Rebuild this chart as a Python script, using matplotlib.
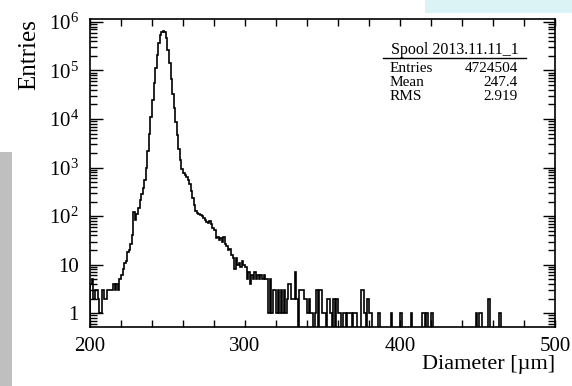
import numpy as np
import matplotlib
matplotlib.use("Agg")
import matplotlib.pyplot as plt
from matplotlib.patches import Rectangle
from matplotlib.lines import Line2D
from matplotlib.ticker import FixedLocator, LogLocator, NullFormatter, FuncFormatter

plt.rcParams['font.family'] = ['Liberation Serif', 'DejaVu Serif']
plt.rcParams['mathtext.fontset'] = 'custom'
plt.rcParams['mathtext.rm'] = 'Liberation Serif'

# histogram: 1 um bins from 200 to 500
x_lo, x_hi = 200, 500
bin_width = 1

# entries per bin, 200..379 um
core_counts = [
    4, 5, 2, 3, 3, 2, 1, 1, 3, 2,
    2, 3, 3, 3, 3, 4, 3, 4, 3, 5,
    6, 8, 11, 12, 18, 20, 27, 40, 120, 85,
    110, 150, 213, 280, 380, 550, 1000, 2200, 5000, 11000,
    25000, 55000, 115000, 210000, 360000, 530000, 630000, 660000, 620000, 460000,
    270000, 140000, 68000, 33000, 17000, 8500, 4600, 2400, 1400, 950,
    780, 720, 650, 550, 450, 330, 240, 170, 125, 115,
    110, 105, 100, 90, 82, 76, 72, 80, 68, 58,
    52, 35, 38, 32, 36, 30, 38, 27, 24, 20,
    21, 16, 14, 8, 14, 10, 11, 9, 12, 10,
    9, 5, 7, 4, 6, 5, 7, 5, 6, 5,
    6, 5, 6, 5, 5, 1, 5, 1, 3, 3,
    1, 3, 1, 3, 1, 3, 1, 2, 4, 4,
    2, 2, 7, 2, 0, 3, 3, 3, 2, 2,
    1, 2, 1, 1, 0, 1, 3, 0, 3, 3,
    1, 1, 0, 2, 2, 1, 0, 2, 0, 2,
    1, 1, 0, 1, 1, 0, 1, 1, 1, 0,
    1, 1, 0, 0, 0, 3, 3, 1, 0, 2,
]

# sparse tail above 380 um: bin low edge and entries
tail_bins = [380, 381, 386, 394, 400, 407, 414, 415, 417, 420, 449, 451, 452, 457, 464]
tail_counts = [1, 1, 1, 1, 1, 1, 1, 1, 1, 1, 1, 1, 1, 2, 1]

stats_title = "Spool 2013.11.11_1"
stat_names = ["Entries", "Mean", "RMS"]
stat_values = ["4724504", "247.4", "2.919"]

edges = np.arange(x_lo, x_hi + bin_width, bin_width)
counts = np.zeros(len(edges) - 1)
counts[:len(core_counts)] = core_counts
for b, c in zip(tail_bins, tail_counts):
    counts[b - x_lo] = c
# empty bins drop to the bottom of the log axis, like ROOT does
floor = 1e-3
plot_counts = np.where(counts > 0, counts, floor)

W, H = 572, 386
fig = plt.figure(figsize=(W / 100, H / 100), dpi=100)
ax = fig.add_axes([90 / W, 1 - 327 / H, 465 / W, 308 / H])

ax.stairs(plot_counts, edges, baseline=floor, color='black', lw=1.2)

ax.set_yscale('log')
ax.set_xlim(x_lo, x_hi)
ax.set_ylim(0.52, 1.15e6)

ax.xaxis.set_major_locator(FixedLocator([200, 300, 400, 500]))
ax.xaxis.set_minor_locator(FixedLocator(np.arange(200, 501, 20)))
ax.yaxis.set_major_locator(LogLocator(base=10, numticks=10))
ax.yaxis.set_minor_locator(LogLocator(base=10, subs=np.arange(2, 10), numticks=20))
ax.yaxis.set_minor_formatter(NullFormatter())


def log_label(v, pos):
    n = int(round(np.log10(v)))
    if n == 0:
        return '1'
    if n == 1:
        return '10'
    return r'$\mathregular{10^{%d}}$' % n


ax.yaxis.set_major_formatter(FuncFormatter(log_label))

ax.tick_params(which='both', direction='in', top=True, right=True, width=1.0, colors='black')
ax.tick_params(axis='x', which='both', length=5, labelsize=15, pad=7)
ax.tick_params(axis='y', which='major', length=9, labelsize=15, pad=8)
ax.tick_params(axis='y', which='minor', length=5)
for sp in ax.spines.values():
    sp.set_linewidth(1.2)

ax.set_xlabel('Diameter [µm]', fontsize=16, loc='right')
ax.set_ylabel('Entries', fontsize=18, loc='top')
ax.xaxis.set_label_coords(1.0, -0.09)
ax.yaxis.set_label_coords(-0.108, 1.0)


def px(x, y):
    return x / W, 1 - y / H


# stats box
fig.text(*px(455, 50), stats_title, ha='center', va='center', fontsize=11.5)
fig.add_artist(Line2D([383 / W, 526 / W], [1 - 58 / H, 1 - 58 / H], color='black', lw=1.0))
for i, (name, val) in enumerate(zip(stat_names, stat_values)):
    y = 68 + i * 14
    fig.text(*px(390, y), name, ha='left', va='center', fontsize=11)
    fig.text(*px(518, y), val, ha='right', va='center', fontsize=11)

# screenshot leftovers: cyan strip top right, grey bar at the left
fig.add_artist(Rectangle(px(425, 13), (W - 425) / W, 13 / H, color='#dcf3f5', lw=0))
fig.add_artist(Rectangle(px(0, H), 12 / W, (H - 152) / H, color='#bfbfbf', lw=0))

fig.savefig('out.png', dpi=100)
